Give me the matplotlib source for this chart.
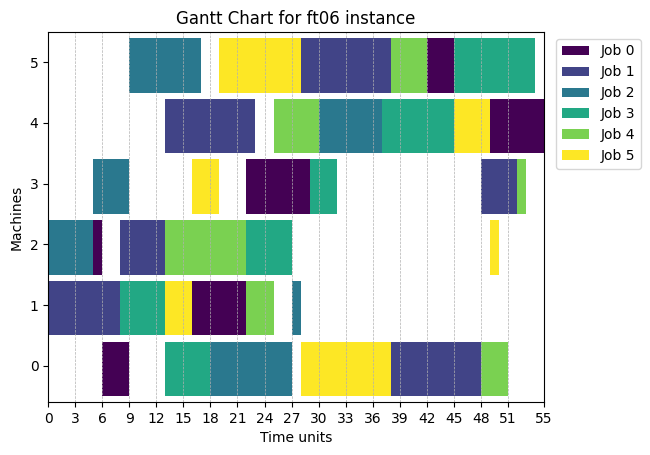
import numpy as np
import matplotlib.pyplot as plt

# schedule for ft06, one list per machine: job ids, start times, durations
m0_jobs = [0, 3, 2, 5, 1, 4]
m0_start = [6, 13, 18, 28, 38, 48]
m0_dur = [3, 5, 9, 10, 10, 3]

m1_jobs = [1, 3, 5, 0, 4, 2]
m1_start = [0, 8, 13, 16, 22, 27]
m1_dur = [8, 5, 3, 6, 3, 1]

m2_jobs = [2, 0, 1, 4, 3, 5]
m2_start = [0, 5, 8, 13, 22, 49]
m2_dur = [5, 1, 5, 9, 5, 1]

m3_jobs = [2, 5, 0, 3, 1, 4]
m3_start = [5, 16, 22, 29, 48, 52]
m3_dur = [4, 3, 7, 3, 4, 1]

m4_jobs = [1, 4, 2, 3, 5, 0]
m4_start = [13, 25, 30, 37, 45, 49]
m4_dur = [10, 5, 7, 8, 4, 6]

m5_jobs = [2, 5, 1, 4, 0, 3]
m5_start = [9, 19, 28, 38, 42, 45]
m5_dur = [8, 9, 10, 4, 3, 9]

machines = [
    (m0_jobs, m0_start, m0_dur),
    (m1_jobs, m1_start, m1_dur),
    (m2_jobs, m2_start, m2_dur),
    (m3_jobs, m3_start, m3_dur),
    (m4_jobs, m4_start, m4_dur),
    (m5_jobs, m5_start, m5_dur),
]
n_jobs = 6
makespan = 55

colors = plt.cm.viridis(np.linspace(0, 1, n_jobs))

fig, ax = plt.subplots(figsize=(6.5, 4.55), dpi=100)

for m, (jobs, starts, durs) in enumerate(machines):
    for j, s, d in zip(jobs, starts, durs):
        ax.broken_barh([(s, d)], (m - 0.5, 0.9), facecolors=colors[j])

# legend handles
for j in range(n_jobs):
    ax.bar(0, 0, color=colors[j], label=f'Job {j}')

ax.set_xlim(0, makespan)
ax.set_ylim(-0.6, 5.5)
ax.set_xticks(list(range(0, makespan - 3, 3)) + [makespan])
ax.set_yticks(range(len(machines)))
ax.grid(True, axis='x', linestyle='--', linewidth=0.5, color='#b0b0b0')
ax.set_xlabel('Time units')
ax.set_ylabel('Machines')
ax.set_title('Gantt Chart for ft06 instance')
ax.legend(loc='upper left', bbox_to_anchor=(1.01, 1))

plt.subplots_adjust(left=0.074, right=0.837, top=0.93, bottom=0.116)
plt.savefig('out.png', dpi=100)
